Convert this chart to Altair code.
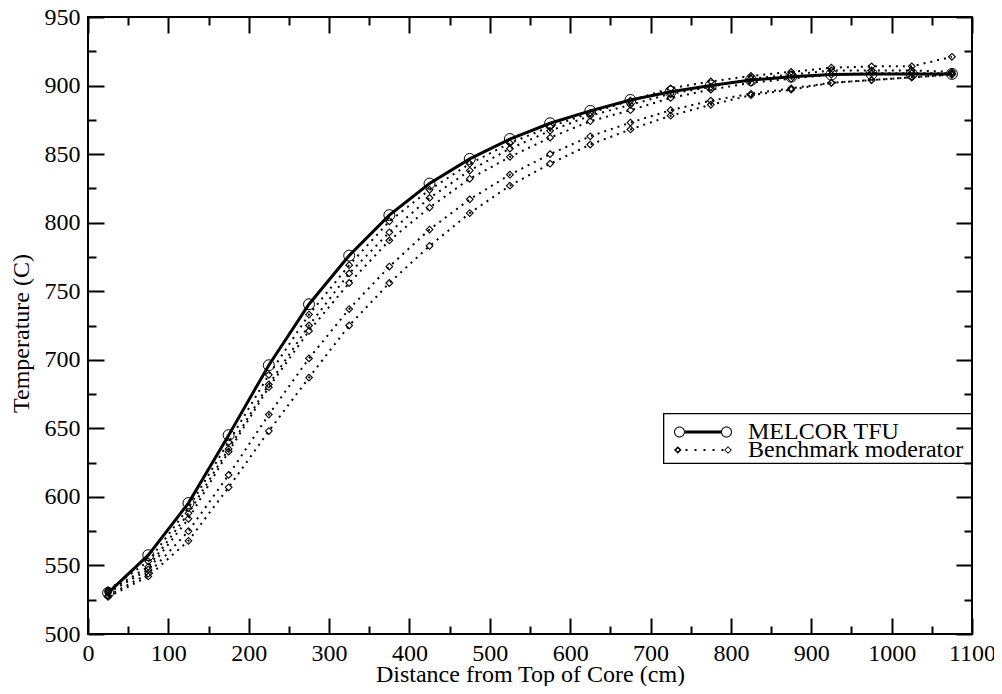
import altair as alt
import pandas as pd

# ---------------- data ----------------
x_pos = [25, 75, 125, 175, 225, 275, 325, 375, 425, 475, 525,
         575, 625, 675, 725, 775, 825, 875, 925, 975, 1025, 1075]

melcor_tfu = [530, 557.5, 595.5, 645, 696, 740.5, 776, 805.5, 828.5, 846.5, 861,
              872.5, 881.5, 889.5, 895.5, 900, 904, 906.5, 908, 908.5, 908.5, 908.5]

bench_1 = [532, 553, 592, 640, 689, 733, 769, 801, 824, 843, 858,
           870, 880, 889, 898, 903, 907, 910, 913, 914, 914, 921]
bench_2 = [531, 549, 588, 635, 682, 725, 763, 793, 818, 838, 854,
           867, 878, 886, 894, 899, 905, 908, 911, 911, 911, 910]
bench_3 = [530, 547, 584, 633, 680, 721, 756, 787, 811, 832, 848,
           862, 874, 882, 891, 897, 902, 905, 908, 909, 909, 909]
bench_4 = [528, 544, 575, 616, 660, 701, 737, 768, 795, 817, 835,
           850, 863, 873, 882, 889, 894, 898, 902, 904, 906, 908]
bench_5 = [527, 542, 568, 607, 648, 687, 725, 756, 783, 807, 827,
           843, 857, 868, 878, 886, 893, 897, 902, 904, 906, 908]

x_ticks = list(range(0, 1101, 50))
x_labels = list(range(0, 1101, 100))
y_ticks = list(range(500, 951, 25))
y_labels = list(range(500, 951, 50))

legend_melcor = ["MELCOR TFU"]
legend_bench = ["Benchmark moderator"]

# ---------------- tables ----------------
melcor_df = pd.DataFrame({"x": x_pos, "y": melcor_tfu})
bench_df = pd.concat(
    [pd.DataFrame({"x": x_pos, "y": vals, "series": f"b{i + 1}"})
     for i, vals in enumerate([bench_1, bench_2, bench_3, bench_4, bench_5])],
    ignore_index=True)
leg_m_df = pd.DataFrame({"name": legend_melcor, "x": [None], "y": [None]})
leg_b_df = pd.DataFrame({"name": legend_bench, "x": [None], "y": [None]})

# ---------------- legend symbol paths (pixel units at size 4) ----------------
S = -8  # shift of the symbol relative to its anchor


def ring(c, ro, ri):
    c = c + S
    return (f"M{c - ro},0A{ro},{ro} 0 1,1 {c + ro},0A{ro},{ro} 0 1,1 {c - ro},0Z"
            f"M{c - ri},0A{ri},{ri} 0 1,0 {c + ri},0A{ri},{ri} 0 1,0 {c - ri},0Z")


def diamond(c, ho, hi):
    c = c + S
    return (f"M{c - ho},0L{c},{-ho}L{c + ho},0L{c},{ho}Z"
            f"M{c - hi},0L{c},{hi}L{c + hi},0L{c},{-hi}Z")


def frame(x0, y0, x1, y1, t):
    return (f"M{x0},{y0}H{x1}V{y1}H{x0}Z"
            f"M{x0 + t},{y0 + t}V{y1 - t}H{x1 - t}V{y0 + t}Z")


sym_melcor = (ring(5.5, 5.5, 4.5) + ring(52.5, 5.5, 4.5)
              + f"M{11 + S},-1.5H{47 + S}V1.5H{11 + S}Z")
sym_bench = (diamond(3.8, 3.8, 1.6) + diamond(54, 3.8, 2.6)
             + "".join(f"M{d - 1 + S},-1h2v2h-2Z" for d in [12.5, 21.5, 30.5, 39.5, 48.5])
             + frame(-19, -37, 291, 14, 1.3))

# ---------------- scales & axes ----------------
W, H = 884, 617
FONT = "Liberation Serif"
xs = alt.Scale(domain=[0, 1100], nice=False, zero=False)
ys = alt.Scale(domain=[500, 950], nice=False, zero=False)

x_tick_size = {"condition": {"test": "datum.value % 100 === 0", "value": 16}, "value": 8}
y_tick_size = {"condition": {"test": "datum.value % 50 === 0", "value": 16}, "value": 8}

ax_x_lab = alt.Axis(orient="bottom", values=x_labels, ticks=False, tickSize=0, domain=False,
                    grid=False, labelPadding=7, format="d", labelFlush=False,
                    labelOverlap=False,
                    labelFont=FONT, labelFontSize=24, labelColor="black",
                    title="Distance from Top of Core (cm)", titleFont=FONT,
                    titleFontSize=24, titleFontWeight="normal", titleColor="black",
                    titleY=28, titleBaseline="top")
ax_x_bot = alt.Axis(orient="top", offset=-H, values=x_ticks, tickSize=x_tick_size,
                    labels=False, domain=False, grid=False, title=None)
ax_x_top = alt.Axis(orient="bottom", offset=-H, values=x_ticks, tickSize=x_tick_size,
                    labels=False, domain=False, grid=False, title=None)

ax_y_lab = alt.Axis(orient="left", values=y_labels, ticks=False, tickSize=0, domain=False,
                    grid=False, labelPadding=8, format="d", labelFlush=False,
                    labelOverlap=False,
                    labelFont=FONT, labelFontSize=24, labelColor="black",
                    title="Temperature (C)", titleFont=FONT, titleFontSize=24,
                    titleFontWeight="normal", titleColor="black",
                    titleX=-67, titleY=316, titleBaseline="middle")
ax_y_left = alt.Axis(orient="right", offset=-W, values=y_ticks, tickSize=y_tick_size,
                     labels=False, domain=False, grid=False, title=None)
ax_y_right = alt.Axis(orient="left", offset=-W, values=y_ticks, tickSize=y_tick_size,
                      labels=False, domain=False, grid=False, title=None)

# ---------------- layers ----------------
bench_lines = alt.Chart(bench_df).mark_line(
    color="black", strokeWidth=2, strokeDash=[2, 5]
).encode(
    x=alt.X("x:Q", scale=xs, axis=ax_x_top),
    y=alt.Y("y:Q", scale=ys, axis=ax_y_right),
    detail="series:N",
)

bench_pts = alt.Chart(bench_df).mark_point(
    shape="diamond", size=45, color="black", strokeWidth=1.1, filled=False, opacity=1
).encode(
    x=alt.X("x:Q", scale=xs, axis=None),
    y=alt.Y("y:Q", scale=ys, axis=None),
)

melcor_line = alt.Chart(melcor_df).mark_line(color="black", strokeWidth=3).encode(
    x=alt.X("x:Q", scale=xs, axis=ax_x_lab),
    y=alt.Y("y:Q", scale=ys, axis=ax_y_lab),
)

melcor_pts = alt.Chart(melcor_df).mark_point(
    shape="circle", size=120, color="black", strokeWidth=1, filled=False, opacity=1
).encode(
    x=alt.X("x:Q", scale=xs, axis=ax_x_bot),
    y=alt.Y("y:Q", scale=ys, axis=ax_y_left),
)

common_legend = dict(
    title=None, orient="none", padding=0, symbolSize=4, symbolStrokeWidth=0,
    symbolFillColor="black", symbolOpacity=1, labelOffset=54, labelFont=FONT,
    labelFontSize=24, labelColor="black", labelLimit=400,
)

legend_m = alt.Chart(leg_m_df).mark_point(
    filled=True, color="black", opacity=1, strokeWidth=0
).encode(
    x=alt.X("x:Q", scale=xs, axis=None),
    y=alt.Y("y:Q", scale=ys, axis=None),
    shape=alt.Shape(
        "name:N",
        scale=alt.Scale(domain=legend_melcor, range=[sym_melcor]),
        legend=alt.Legend(legendX=582, legendY=403, **common_legend),
    ),
)

legend_b = alt.Chart(leg_b_df).mark_point(
    filled=True, opacity=1, strokeWidth=0, shape=sym_bench
).encode(
    x=alt.X("x:Q", scale=xs, axis=None),
    y=alt.Y("y:Q", scale=ys, axis=None),
    fill=alt.Fill(
        "name:N",
        scale=alt.Scale(domain=legend_bench, range=["black"]),
        legend=alt.Legend(legendX=582, legendY=421, symbolType=sym_bench,
                          **common_legend),
    ),
)

chart = alt.layer(
    bench_lines, bench_pts, melcor_line, melcor_pts, legend_m, legend_b
).resolve_axis(
    x="independent", y="independent"
).properties(
    width=W, height=H,
    autosize=alt.AutoSizeParams(type="none"),
    padding={"left": 80, "top": 9, "right": 22, "bottom": 52},
    background="white",
).configure_view(
    stroke="black", strokeWidth=2
).configure_axis(
    labelFont=FONT, labelFontSize=24, labelColor="black",
    titleFont=FONT, titleFontSize=24, titleFontWeight="normal",
    titleColor="black", tickColor="black", tickWidth=2,
)

chart.save("out.html", embed_options={"renderer": "svg", "actions": False})
